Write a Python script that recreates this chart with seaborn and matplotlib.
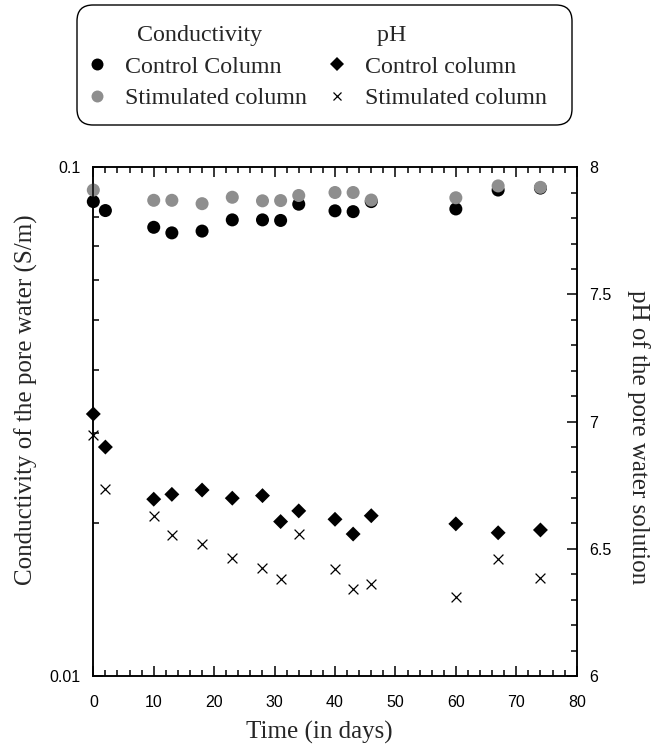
import numpy as np
import pandas as pd
import matplotlib
matplotlib.use("Agg")
import matplotlib.pyplot as plt
import seaborn as sns
from matplotlib.lines import Line2D
from matplotlib.patches import FancyBboxPatch
from matplotlib.transforms import IdentityTransform
from matplotlib.ticker import MultipleLocator, LogLocator, NullFormatter, FixedLocator, FixedFormatter

# ---- data ----
days = [0, 2, 10, 13, 18, 23, 28, 31, 34, 40, 43, 46, 60, 67, 74]
cond_control = [0.0856, 0.0822, 0.0762, 0.0743, 0.0749, 0.0788, 0.0788, 0.0786,
                0.0846, 0.0821, 0.0818, 0.0856, 0.0828, 0.0902, 0.0910]
cond_stimulated = [0.0902, np.nan, 0.0861, 0.0861, 0.0848, 0.0873, 0.0859, 0.0860,
                   0.0880, 0.0892, 0.0892, 0.0862, 0.0871, 0.0919, 0.0913]
ph_control = [7.03, 6.90, 6.695, 6.714, 6.731, 6.699, 6.709, 6.607,
              6.649, 6.616, 6.558, 6.63, 6.598, 6.563, 6.574]
ph_stimulated = [6.947, 6.736, 6.63, 6.554, 6.52, 6.465, 6.426, 6.381,
                 6.559, 6.421, 6.342, 6.36, 6.309, 6.459, 6.386]

cond_ticks = [0.01, 0.1]
cond_ticklabels = ["0.01", "0.1"]
ph_ticks = [6, 6.5, 7, 7.5, 8]
ph_ticklabels = ["6", "6.5", "7", "7.5", "8"]
x_ticks = [0, 10, 20, 30, 40, 50, 60, 70, 80]

df = pd.DataFrame({
    "day": days,
    "cond_control": cond_control,
    "cond_stimulated": cond_stimulated,
    "ph_control": ph_control,
    "ph_stimulated": ph_stimulated,
})

sns.set_style("ticks")
plt.rcParams["font.family"] = ["Liberation Sans", "DejaVu Sans"]
SERIF = ["Liberation Serif", "DejaVu Serif"]
GRAY = "#8e8e8e"

fig = plt.figure(figsize=(6.67, 7.51), dpi=100)
ax = fig.add_axes([0.1399, 0.0999, 0.7247, 0.6774])
ax2 = ax.twinx()

# conductivity (left, log)
sns.scatterplot(data=df, x="day", y="cond_control", ax=ax, color="black",
                marker="o", s=88, edgecolor="none", zorder=3, legend=False, clip_on=False)
sns.scatterplot(data=df.dropna(subset=["cond_stimulated"]), x="day", y="cond_stimulated",
                ax=ax, color=GRAY, marker="o", s=88, edgecolor="none", zorder=4,
                legend=False, clip_on=False)
# pH (right)
sns.scatterplot(data=df, x="day", y="ph_control", ax=ax2, color="black",
                marker="D", s=58, edgecolor="none", zorder=3, legend=False, clip_on=False)
sns.scatterplot(data=df, x="day", y="ph_stimulated", ax=ax2, color="black",
                marker="x", s=50, linewidth=0.9, zorder=4, legend=False, clip_on=False)

ax.set_yscale("log")
ax.set_xlim(0, 80)
ax.set_ylim(0.01, 0.1)
ax2.set_ylim(6, 8)

ax.xaxis.set_major_locator(FixedLocator(x_ticks))
ax.xaxis.set_minor_locator(MultipleLocator(2))
ax.yaxis.set_major_locator(FixedLocator(cond_ticks))
ax.yaxis.set_major_formatter(FixedFormatter(cond_ticklabels))
ax.yaxis.set_minor_locator(LogLocator(base=10, subs=np.arange(2, 10)))
ax.yaxis.set_minor_formatter(NullFormatter())

ax2.yaxis.set_major_locator(FixedLocator(ph_ticks))
ax2.yaxis.set_major_formatter(FixedFormatter(ph_ticklabels))
ax2.yaxis.set_minor_locator(MultipleLocator(0.1))

for a in (ax, ax2):
    for sp in a.spines.values():
        sp.set_linewidth(1.1)
        sp.set_color("black")
TICK_FS = 11.5
ax.tick_params(axis="x", which="both", direction="in", top=True, bottom=True,
               width=1.1, labelsize=TICK_FS, pad=14, colors="black")
ax.tick_params(axis="x", which="major", length=7)
ax.tick_params(axis="x", which="minor", length=4)
ax.tick_params(axis="y", which="both", direction="in", left=True, right=False,
               width=1.1, labelsize=TICK_FS, pad=9, colors="black")
ax.tick_params(axis="y", which="major", length=7)
ax.tick_params(axis="y", which="minor", length=4)
ax2.tick_params(axis="y", which="both", direction="in", right=True, left=False,
                width=1.1, labelsize=TICK_FS, pad=9, colors="black")
ax2.tick_params(axis="y", which="major", length=7)
ax2.tick_params(axis="y", which="minor", length=4)

LABEL_FS = 18
ax.set_xlabel("Time (in days)", family=SERIF, fontsize=LABEL_FS)
ax.xaxis.set_label_coords(0.467, -0.112)
ax.xaxis.label.set_va("center")
ax.set_ylabel("Conductivity of the pore water (S/m)", family=SERIF, fontsize=LABEL_FS,
              rotation=90, va="center", ha="center")
ax.yaxis.set_label_coords(-0.139, 0.543)
ax2.set_ylabel("pH of the pore water solution", family=SERIF, fontsize=LABEL_FS,
               rotation=270, va="center", ha="center")
ax2.yaxis.set_label_coords(1.127, 0.47)

# legend (entries) + rounded frame drawn separately
blank = Line2D([], [], linestyle="none", marker=None)
h_cc = Line2D([], [], linestyle="none", marker="o", color="black", markersize=8.6, markeredgewidth=0)
h_cs = Line2D([], [], linestyle="none", marker="o", color=GRAY, markersize=8.6, markeredgewidth=0)
h_pc = Line2D([], [], linestyle="none", marker="D", color="black", markersize=7.0, markeredgewidth=0)
h_ps = Line2D([], [], linestyle="none", marker="x", color="black", markersize=6.0, markeredgewidth=0.9)
handles = [blank, h_cc, h_cs, blank, h_pc, h_ps]
labels = ["  Conductivity", "Control Column", "Stimulated column",
          "  pH", "Control column", "Stimulated column"]
leg = fig.legend(handles, labels, ncol=2, loc="upper left",
                 bbox_to_anchor=(80.5 / 667, 1 - 19.0 / 751), frameon=False,
                 prop={"family": SERIF, "size": 17.3}, handlelength=1.0,
                 handletextpad=0.65, columnspacing=0.75, labelspacing=0.42,
                 borderpad=0.2, borderaxespad=0.0)

H = 751
frame = FancyBboxPatch((77, H - 125), 495, 120,
                       boxstyle="round,pad=0,rounding_size=16",
                       transform=IdentityTransform(), facecolor="none",
                       edgecolor="black", linewidth=1.0)
fig.add_artist(frame)

fig.savefig("out.png", dpi=100)
